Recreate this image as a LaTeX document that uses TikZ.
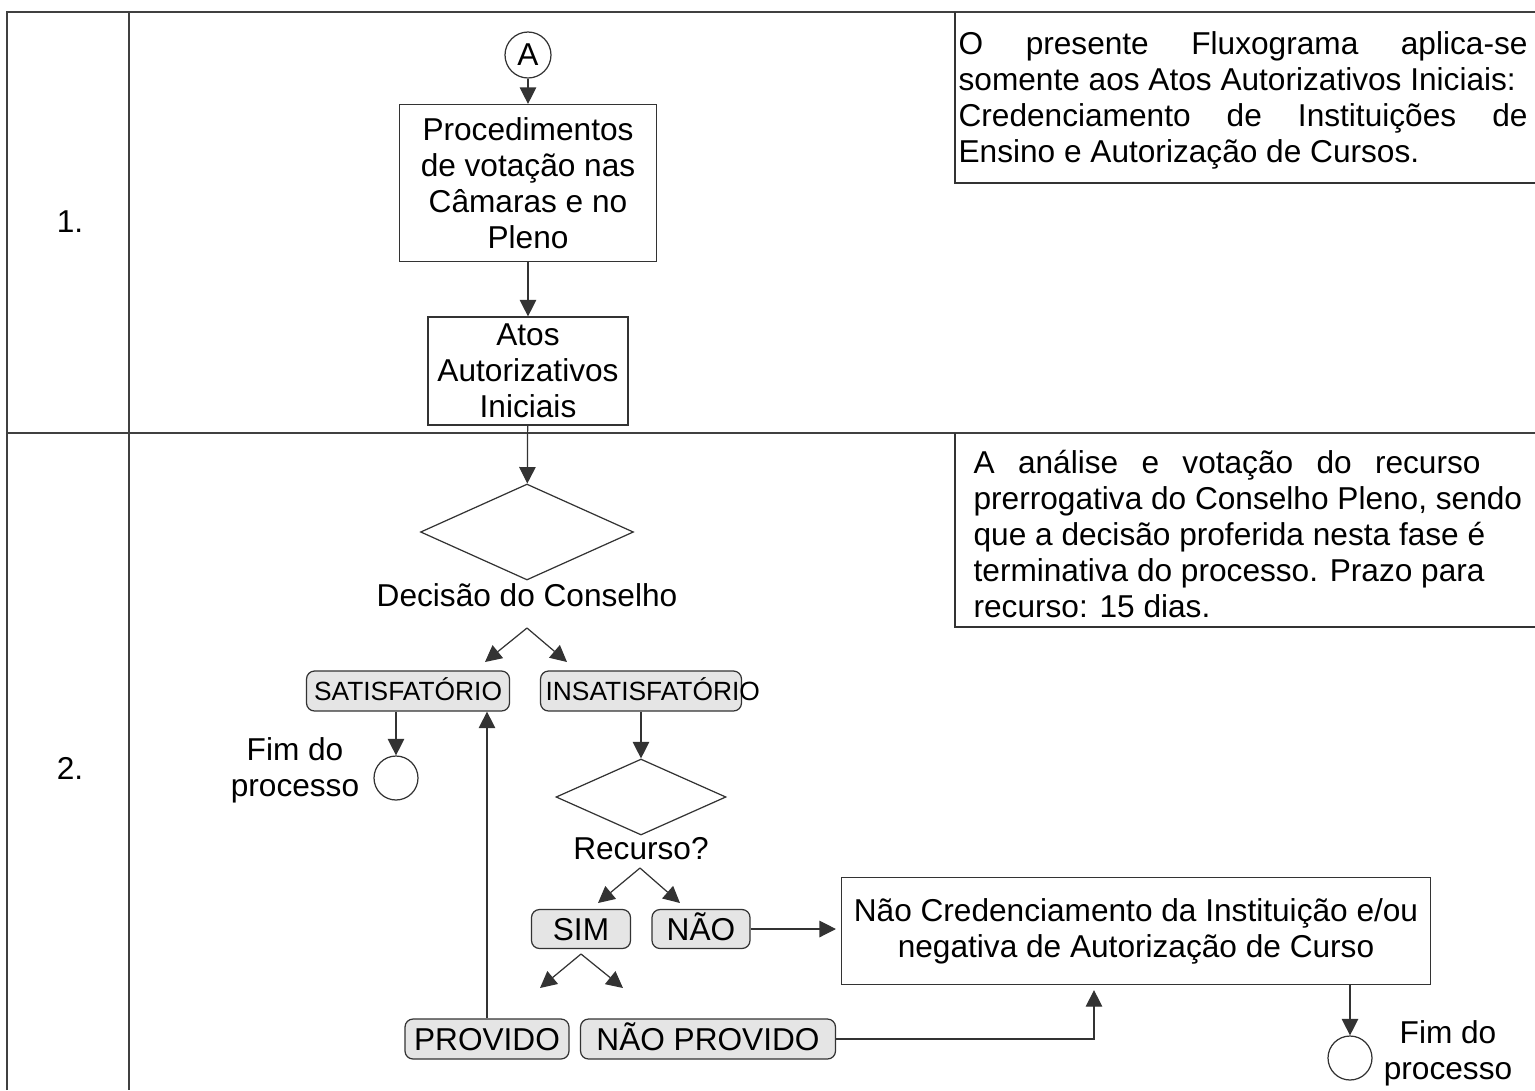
\documentclass[tikz,border=0pt]{standalone}
\usepackage{fontspec}
\setmainfont{Liberation Sans}
\usetikzlibrary{shapes.geometric, arrows.meta}
\colorlet{linegray}{black!80}

\begin{document}
\begin{tikzpicture}[x=0.02cm, y=-0.02cm, line width=0.7pt,
    font=\fontsize{18}{20.5}\selectfont,
    proc/.style={draw=linegray, align=center, inner sep=0pt},
    decide/.style={diamond, draw=linegray, inner sep=0pt},
    answer/.style={draw=linegray, rounded corners=0.16cm, fill=black!10, inner sep=0pt, text height=13pt, text depth=0pt},
    small/.style={font=\fontsize{15}{18}\selectfont, text height=10.7pt},
    endpoint/.style={circle, draw=linegray, inner sep=0pt, minimum size=0.88cm},
    arr/.style={draw=linegray, -{Triangle[length=0.33cm, width=0.33cm]}},
    grid/.style={draw=black!75, line width=1.1pt}]
\useasboundingbox (0,0) rectangle (1535,1090);
\draw[grid] (7,1090) -- (7,12) -- (1535,12);
\draw[grid] (129,12) -- (129,1090);
\draw[grid] (7,433) -- (1535,433);
\node (one) at (70,222) {1.};
\node (two) at (70,768) {2.};
\draw[draw=linegray] (955,12) -- (955,183) -- (1535,183);
\draw[draw=linegray] (955,433) -- (955,627) -- (1535,627);
\node[anchor=north west, align=left, inner sep=0pt] (note1) at (958,31) {\makebox[11.38cm][s]{O presente Fluxograma aplica-se}\\somente aos Atos Autorizativos Iniciais:\\\makebox[11.38cm][s]{Credenciamento de Instituições de}\\Ensino e Autorização de Cursos.};
\node[anchor=north west, align=left, inner sep=0pt] (note2) at (973,450) {\makebox[10.14cm][s]{A análise e votação do recurso}\\prerrogativa do Conselho Pleno, sendo\\que a decisão proferida nesta fase é\\terminativa do processo. Prazo para\\recurso: 15 dias.};
\node[endpoint, minimum size=0.92cm] (A) at (528,55) {A};
\node[proc, minimum width=5.14cm, minimum height=3.14cm] (proc) at (528,183) {Procedimentos\\de votação nas\\Câmaras e no\\Pleno};
\node[proc, minimum width=4cm, minimum height=2.16cm] (atos) at (528,371) {Atos\\Autorizativos\\Iniciais};
\node[decide, minimum width=4.26cm, minimum height=1.92cm] (dec) at (527,532) {};
\node (dectext) at (527,595) {Decisão do Conselho};
\coordinate (decfork) at (527,628);
\coordinate (decl) at (485,662);
\coordinate (decr) at (567,662);
\node[answer, small, minimum width=4.06cm, minimum height=0.8cm] (sat) at (408,691) {SATISFATÓRIO};
\node[answer, minimum width=4.02cm, minimum height=0.8cm] (insat) at (641,691) {};
\node[anchor=west, inner sep=0pt, small, text depth=0pt] (insattext) at (545,691) {INSATISFATÓRIO};
\node[endpoint] (fim1) at (396,778) {};
\node[align=center] (fim1text) at (295,770) {Fim do\\processo};
\node[decide, minimum width=3.4cm, minimum height=1.52cm] (rec) at (641,797) {};
\node (rectext) at (641,849) {Recurso?};
\coordinate (recfork) at (640,868);
\coordinate (recl) at (598,903);
\coordinate (recr) at (680,903);
\node[answer, minimum width=1.98cm, minimum height=0.78cm] (sim) at (581,929) {SIM};
\node[answer, minimum width=1.96cm, minimum height=0.78cm] (nao) at (701,929) {NÃO};
\node[proc, minimum width=11.78cm, minimum height=2.14cm] (neg) at (1136,931) {Não Credenciamento da Instituição e/ou\\negativa de Autorização de Curso};
\coordinate (simfork) at (581,954);
\coordinate (siml) at (540,988);
\coordinate (simr) at (623,988);
\node[answer, minimum width=3.28cm, minimum height=0.8cm] (prov) at (487,1039) {PROVIDO};
\node[answer, minimum width=5.1cm, minimum height=0.8cm] (naoprov) at (708,1039) {NÃO PROVIDO};
\coordinate (bend) at (1094,1039);
\node[endpoint] (fim2) at (1350,1058) {};
\node[align=center] (fim2text) at (1448,1053) {Fim do\\processo};
\draw[arr] (A) -- (proc);
\draw[arr] (proc) -- (atos);
\draw[arr] (atos) -- (dec);
\draw[arr] (decfork) -- (decl);
\draw[arr] (decfork) -- (decr);
\draw[arr] (sat.south -| fim1) -- (fim1);
\draw[arr] (insat) -- (rec);
\draw[arr] (recfork) -- (recl);
\draw[arr] (recfork) -- (recr);
\draw[arr] (nao.east) -- ([xshift=-0.1cm]nao.east -| neg.west);
\draw[arr] (simfork) -- (siml);
\draw[arr] (simfork) -- (simr);
\draw[arr] (prov) -- (prov |- sat.south);
\draw[arr] (naoprov.east) -- (bend) -- ([yshift=-0.1cm]bend |- neg.south);
\draw[arr] (neg.south -| fim2) -- (fim2);
\end{tikzpicture}
\end{document}
